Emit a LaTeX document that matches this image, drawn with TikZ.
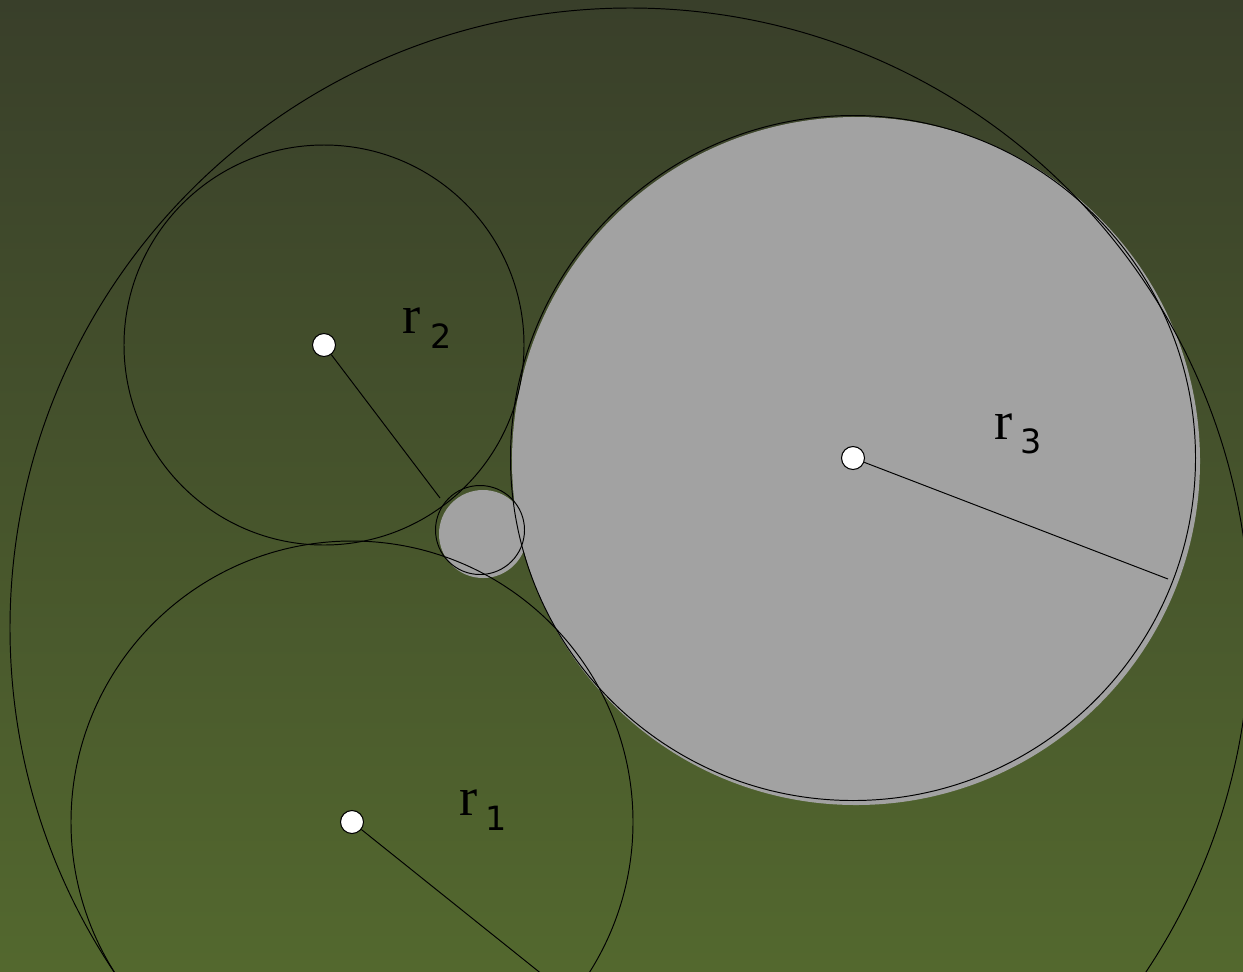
\documentclass[tikz,border=0pt]{standalone}
\usepackage{fontspec}
\newfontfamily\rfont{Liberation Serif}
\newfontfamily\idxfont{DejaVu Sans}
\definecolor{bgtop}{HTML}{393F2A}
\definecolor{bgbot}{HTML}{53682E}
\definecolor{disk}{HTML}{A2A2A2}

\tikzset{
  ring/.style={draw=black,line width=0.55pt},
  dot/.style={circle,draw=black,fill=white,line width=0.6pt,inner sep=0pt,minimum size=0.46cm},
  rlab/.style={anchor=base west,inner sep=0pt,font=\rfont\fontsize{31}{31}\selectfont},
  ilab/.style={anchor=base west,inner sep=0pt,font=\idxfont\fontsize{19}{19}\selectfont}
}

\begin{document}
\begin{tikzpicture}[x=0.02cm,y=-0.02cm]
\useasboundingbox (0,0) rectangle (1243,971);
\clip (0,0) rectangle (1243,971);
\shade[top color=bgtop,bottom color=bgbot] (0,0) rectangle (1243,971);

% centres
\coordinate (c0) at (630,628);
\coordinate (c1) at (352,822);
\coordinate (c2) at (324,345);
\coordinate (c3) at (853,458);
\coordinate (c4) at (480,530);

% grey disks
\fill[disk] (856,461) circle (344);
\fill[disk] (483,534) circle (44);

% outlines
\draw[ring] (c0) circle (620);
\draw[ring] (c1) circle (281);
\draw[ring] (c2) circle (200);
\draw[ring] (c3) circle (342.5);
\draw[ring] (c4) circle (44.5);

% radii
\coordinate (e1) at (563,991);
\coordinate (e2) at (440,498);
\coordinate (e3) at (1168,579);
\node[dot] (d1) at (c1) {};
\node[dot] (d2) at (c2) {};
\node[dot] (d3) at (c3) {};
\draw[ring] (d1) -- (e1);
\draw[ring] (d2) -- (e2);
\draw[ring] (d3) -- (e3);

% labels
\node[rlab] (r1) at (459,815) {r};
\node[ilab] (i1) at (485,830) {1};
\node[rlab] (r2) at (402,333) {r};
\node[ilab] (i2) at (430,348) {2};
\node[rlab] (r3) at (994,439) {r};
\node[ilab] (i3) at (1020,453) {3};
\end{tikzpicture}
\end{document}
